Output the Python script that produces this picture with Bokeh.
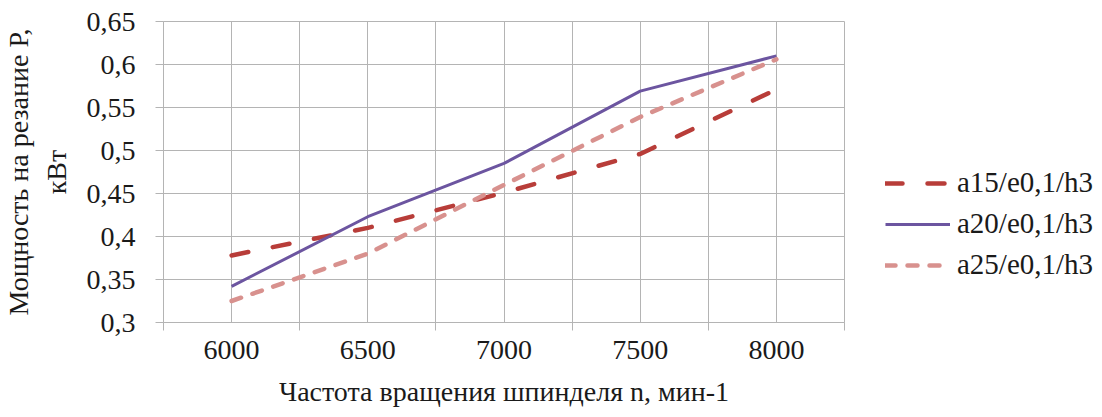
from bokeh.plotting import figure
from bokeh.models import FixedTicker, Legend, LegendItem
from bokeh.embed import file_html
from bokeh.resources import INLINE

x_vals = [6000, 6500, 7000, 7500, 8000]
a15 = [0.378, 0.410, 0.451, 0.496, 0.571]
a20 = [0.342, 0.423, 0.485, 0.569, 0.610]
a25 = [0.325, 0.380, 0.460, 0.539, 0.606]
series_names = ["a15/e0,1/h3", "a20/e0,1/h3", "a25/e0,1/h3"]
y_ticks = [0.3, 0.35, 0.4, 0.45, 0.5, 0.55, 0.6, 0.65]
y_tick_labels = ["0,3", "0,35", "0,4", "0,45", "0,5", "0,55", "0,6", "0,65"]

FONT = "Times"
TICK_FONT = "serif"
GRID = "#b4b4b4"

p = figure(frame_width=681, frame_height=301, x_range=(5750, 8250), y_range=(0.3, 0.65),
           output_backend="svg", toolbar_location=None,
           min_border_left=10, min_border_top=21, min_border_right=0, min_border_bottom=0)
p.background_fill_color = "white"
p.border_fill_color = "white"
p.outline_line_color = GRID

# x axis: labels at categories, tick marks at category boundaries
bounds = [5750, 6250, 6750, 7250, 7750, 8250]
p.xaxis.ticker = FixedTicker(ticks=x_vals, minor_ticks=bounds)
p.xaxis.major_tick_out = 0
p.xaxis.major_tick_in = 0
p.xaxis.minor_tick_out = 8
p.xaxis.minor_tick_in = 0
p.xaxis.minor_tick_line_color = GRID
p.xaxis.axis_line_color = GRID
p.xaxis.major_label_standoff = 10
p.xaxis.axis_label = "Частота вращения шпинделя n, мин-1"
p.xaxis.axis_label_standoff = 14
p.xgrid.ticker = FixedTicker(ticks=x_vals, minor_ticks=bounds)
p.xgrid.grid_line_color = GRID
p.xgrid.minor_grid_line_color = GRID

# y axis
p.yaxis.ticker = FixedTicker(ticks=y_ticks)
p.yaxis.major_label_overrides = {t: l for t, l in zip(y_ticks, y_tick_labels)}
p.yaxis.major_tick_out = 8
p.yaxis.major_tick_in = 0
p.yaxis.major_tick_line_color = GRID
p.yaxis.minor_tick_line_color = None
p.yaxis.axis_line_color = GRID
p.yaxis.major_label_standoff = 20
p.yaxis.axis_label = "Мощность на резание Р,\nкВт"
p.yaxis.axis_label_standoff = 12
p.ygrid.grid_line_color = GRID

for ax in (p.xaxis, p.yaxis):
    ax.major_label_text_font = TICK_FONT
    ax.major_label_text_font_size = "28px"
    ax.major_label_text_font_style = "normal"
    ax.major_label_text_color = "#1a1a1a"
    ax.axis_label_text_font = FONT
    ax.axis_label_text_font_size = "28px"
    ax.axis_label_text_font_style = "normal"
    ax.axis_label_text_color = "#1a1a1a"

r1 = p.line(x_vals, a15, line_color="#b83d39", line_width=4.5, line_dash="17 25", line_cap="round")
r2 = p.line(x_vals, a20, line_color="#6c55a0", line_width=3)
r3 = p.line(x_vals, a25, line_color="#d8918e", line_width=4.5, line_dash="10 12", line_cap="round")

legend = Legend(items=[LegendItem(label=series_names[0], renderers=[r1]),
                       LegendItem(label=series_names[1], renderers=[r2]),
                       LegendItem(label=series_names[2], renderers=[r3])],
                location=(41, 41))
legend.margin = 0
legend.padding = 0
legend.border_line_alpha = 0
legend.background_fill_alpha = 0
legend.glyph_width = 65
legend.glyph_height = 30
legend.label_height = 30
legend.label_standoff = 7
legend.spacing = 8
legend.label_text_font = TICK_FONT
legend.label_text_font_size = "29px"
legend.label_text_font_style = "normal"
legend.label_text_color = "#1a1a1a"
p.add_layout(legend, "right")
p.min_border_right = 250

open("out.html", "w").write(file_html(p, INLINE))
